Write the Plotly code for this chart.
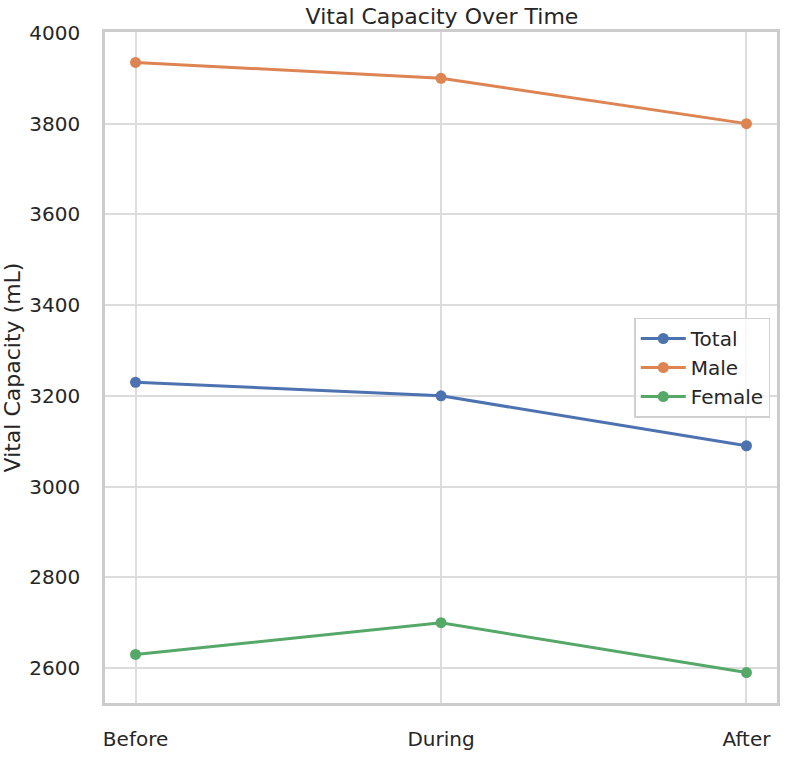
import plotly.graph_objects as go

phases = ["Before", "During", "After"]
total = [3230, 3200, 3090]
male = [3935, 3900, 3800]
female = [2630, 2700, 2590]
y_ticks = [2600, 2800, 3000, 3200, 3400, 3600, 3800, 4000]

colors = {"Total": "#4C72B0", "Male": "#DD8452", "Female": "#55A868"}
series = [("Total", total), ("Male", male), ("Female", female)]

fig = go.Figure()
for name, vals in series:
    fig.add_trace(go.Scatter(
        x=list(range(len(phases))), y=vals, name=name, mode="lines+markers",
        line=dict(color=colors[name], width=3),
        marker=dict(color=colors[name], size=11),
    ))

font = "DejaVu Sans, sans-serif"
fig.update_layout(
    width=786, height=757,
    margin=dict(l=104, r=6, t=32, b=40),
    paper_bgcolor="white", plot_bgcolor="white",
    font=dict(family=font, size=20, color="#262626"),
    title=dict(text="Vital Capacity Over Time", x=(104 + 780) / 2 / 786, xanchor="center",
               y=1 - 16 / 757, yanchor="middle", font=dict(size=22, color="#262626")),
    xaxis=dict(
        range=[-0.1, 2.1], tickmode="array", tickvals=list(range(len(phases))), ticktext=phases,
        showgrid=True, gridcolor="#dcdcdc", gridwidth=1.5, zeroline=False,
        showline=True, linecolor="#cccccc", linewidth=2.5, mirror=True,
        ticks="", ticklabelstandoff=16, tickfont=dict(size=20),
    ),
    yaxis=dict(
        range=[2523, 4002], tickmode="array", tickvals=y_ticks,
        showgrid=True, gridcolor="#dcdcdc", gridwidth=1.5, zeroline=False,
        showline=True, linecolor="#cccccc", linewidth=2.5, mirror=True,
        ticks="", ticklabelstandoff=18, tickfont=dict(size=20),
        title=dict(text="Vital Capacity (mL)", font=dict(size=22), standoff=8),
    ),
    legend=dict(x=0.99, xanchor="right", y=0.5, yanchor="middle",
                bgcolor="rgba(255,255,255,0.8)", bordercolor="#d0d0d0", borderwidth=1.5,
                font=dict(size=20), itemwidth=45),
    showlegend=True,
)

fig.write_html("out.html", config={"displayModeBar": False},
               post_script="document.body.style.margin='0';")
